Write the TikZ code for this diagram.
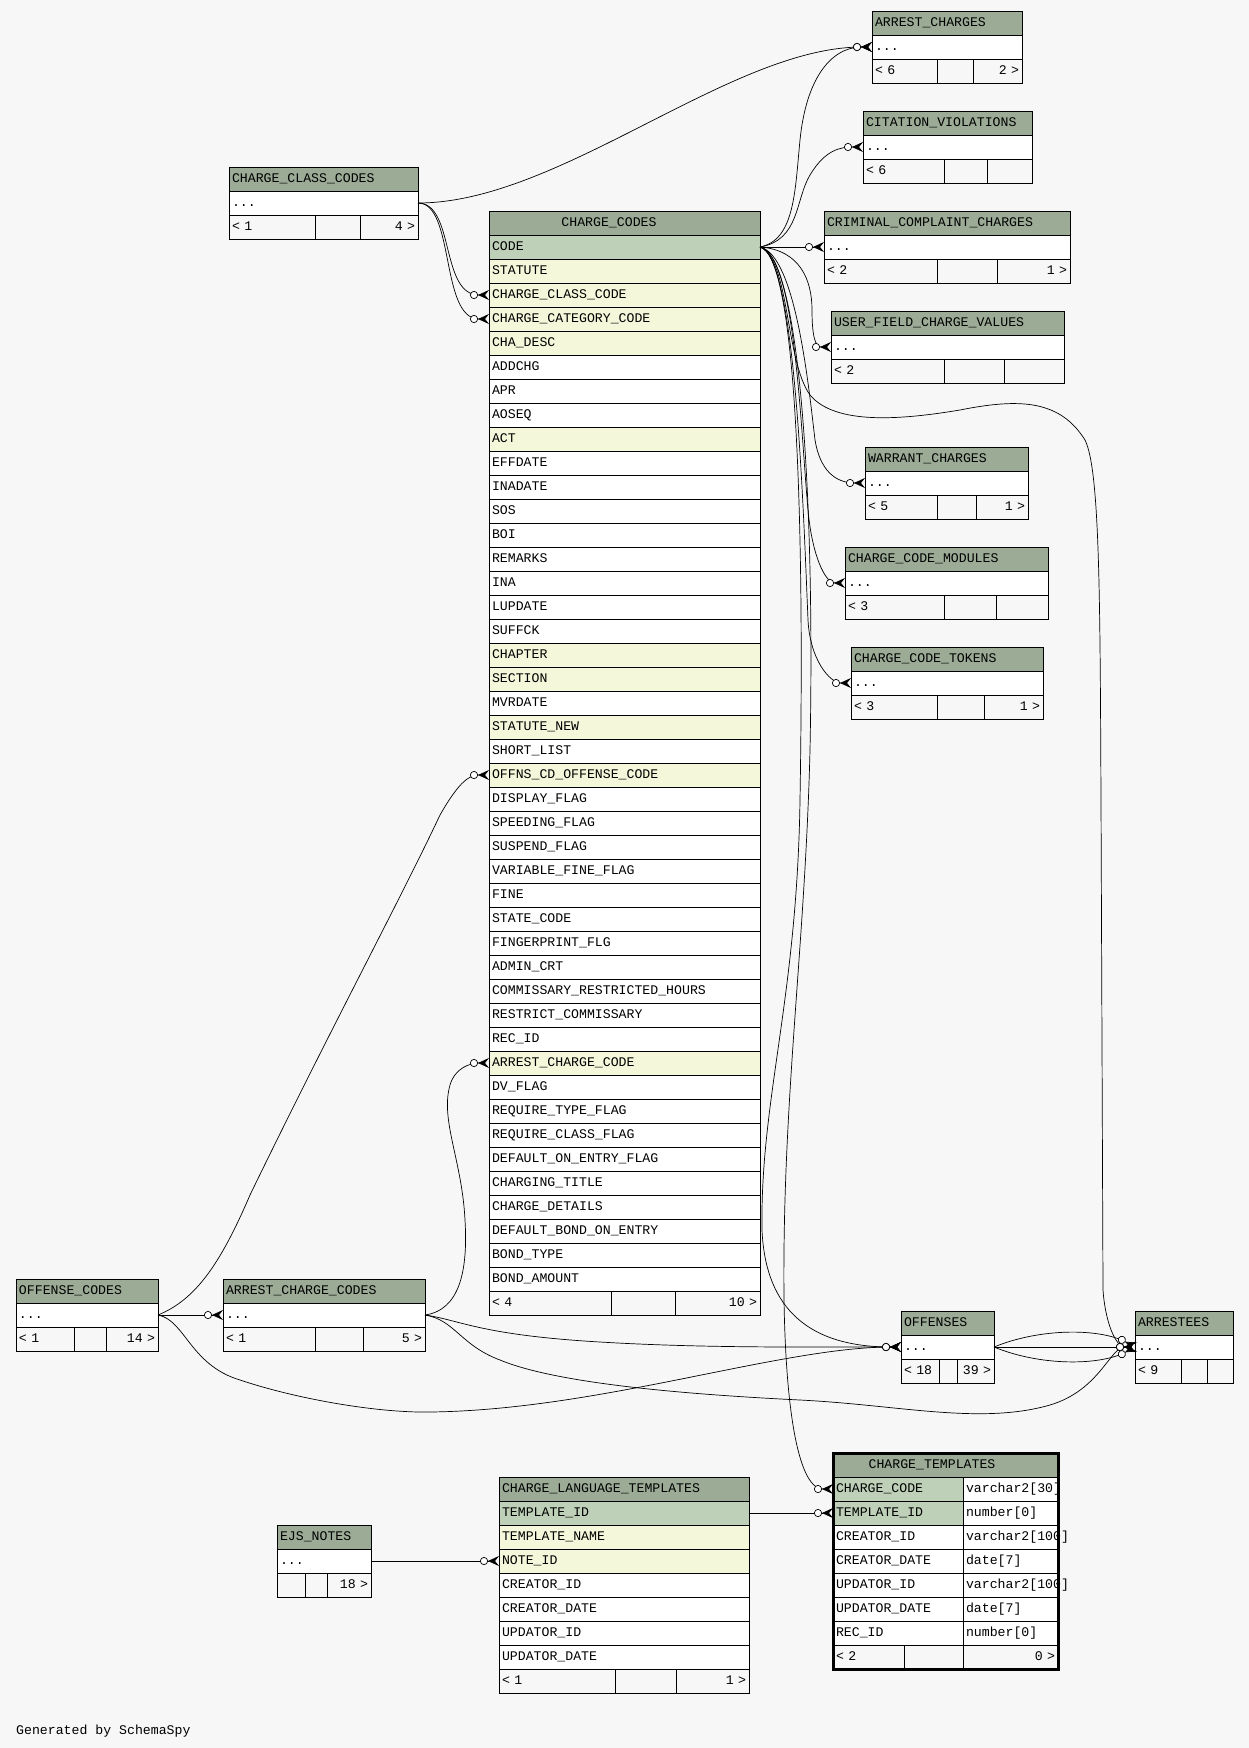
\documentclass[tikz,border=0pt]{standalone}
\usepackage{fontspec}
\usetikzlibrary{arrows.meta}
\newfontfamily\erdfont{Liberation Mono}
\definecolor{bgc}{HTML}{F7F7F7}
\definecolor{hdrc}{HTML}{9BAB96}
\definecolor{keyc}{HTML}{BED1B8}
\definecolor{idxc}{HTML}{F4F7DA}
\tikzset{
  every picture/.style={x=1pt, y=-1pt},
  erdcell/.style={
    draw, line width=1pt, anchor=north west,
    minimum height=24pt, inner xsep=3pt, inner ysep=0pt, outer sep=0pt,
    text height=10pt, text depth=3pt, align=left, text width=#1,
    font=\erdfont\fontsize{13.2pt}{15pt}\selectfont
  },
  hdr/.style={fill=hdrc},
  foot/.style={fill=bgc},
  tabtitle/.style={
    inner sep=0pt, text height=10pt, text depth=3pt,
    font=\erdfont\fontsize{13.2pt}{15pt}\selectfont
  },
  fk/.style={
    line width=0.7pt,
    -{Circle[open, length=8pt, width=8pt, fill=white] Stealth[reversed, length=11pt, width=10pt, inset=4pt]}
  }
}
% small table: name, x, y, three column widths, title, footer left, footer right
\newcommand{\erdbox}[9]{%
  \pgfmathsetmacro\erdw{#4+#5+#6-6}%
  \pgfmathsetmacro\erdwl{#4-6}%
  \pgfmathsetmacro\erdwm{#5-6}%
  \pgfmathsetmacro\erdwr{#6-6}%
  \node[erdcell=\erdw pt, hdr] (#1) at (#2,#3) {#7};
  \node[erdcell=\erdw pt, fill=white] (#1-dots) at (#1.south west) {...};
  \node[erdcell=\erdwl pt, foot] (#1-l) at (#1-dots.south west) {#8};
  \node[erdcell=\erdwm pt, foot] (#1-m) at (#1-l.north east) {};
  \node[erdcell=\erdwr pt, foot, align=right] (#1-r) at (#1-m.north east) {#9};
}

\begin{document}
\begin{tikzpicture}
  \useasboundingbox (0,0) rectangle (1249,1748);
  \fill[bgc] (0,0) rectangle (1249,1748);

  % small tables
  \erdbox{ac}{872}{11}{65}{36}{49}{ARREST\_CHARGES}{< 6}{2 >}
  \erdbox{cv}{863}{111}{81}{43}{45}{CITATION\_VIOLATIONS}{< 6}{}
  \erdbox{crc}{824}{211}{113}{60}{73}{CRIMINAL\_COMPLAINT\_CHARGES}{< 2}{1 >}
  \erdbox{uf}{831}{311}{113}{60}{60}{USER\_FIELD\_CHARGE\_VALUES}{< 2}{}
  \erdbox{wc}{865}{447}{72}{39}{52}{WARRANT\_CHARGES}{< 5}{1 >}
  \erdbox{cm}{845}{547}{99}{52}{52}{CHARGE\_CODE\_MODULES}{< 3}{}
  \erdbox{ctk}{851}{647}{86}{47}{59}{CHARGE\_CODE\_TOKENS}{< 3}{1 >}
  \erdbox{clc}{229}{167}{86}{45}{58}{CHARGE\_CLASS\_CODES}{< 1}{4 >}
  \erdbox{oc}{16}{1279}{58}{32}{52}{OFFENSE\_CODES}{< 1}{14 >}
  \erdbox{acc}{223}{1279}{92}{48}{62}{ARREST\_CHARGE\_CODES}{< 1}{5 >}
  \erdbox{off}{901}{1311}{38}{18}{37}{OFFENSES}{< 18}{39 >}
  \erdbox{arr}{1135}{1311}{46}{26}{26}{ARRESTEES}{< 9}{}
  \erdbox{ejs}{277}{1525}{28}{22}{44}{EJS\_NOTES}{}{18 >}

  % charge codes
  \node[erdcell=265pt, hdr] (cc-0) at (489,211) {};
  \node[tabtitle] (cc-title) at (609,223) {CHARGE\_CODES};
  \foreach \nm/\fc [count=\i] in {CODE/keyc, STATUTE/idxc, CHARGE\_CLASS\_CODE/idxc,
      CHARGE\_CATEGORY\_CODE/idxc, CHA\_DESC/idxc, ADDCHG/white, APR/white, AOSEQ/white,
      ACT/idxc, EFFDATE/white, INADATE/white, SOS/white, BOI/white, REMARKS/white,
      INA/white, LUPDATE/white, SUFFCK/white, CHAPTER/idxc, SECTION/idxc, MVRDATE/white,
      STATUTE\_NEW/idxc, SHORT\_LIST/white, OFFNS\_CD\_OFFENSE\_CODE/idxc,
      DISPLAY\_FLAG/white, SPEEDING\_FLAG/white, SUSPEND\_FLAG/white,
      VARIABLE\_FINE\_FLAG/white, FINE/white, STATE\_CODE/white, FINGERPRINT\_FLG/white,
      ADMIN\_CRT/white, COMMISSARY\_RESTRICTED\_HOURS/white, RESTRICT\_COMMISSARY/white,
      REC\_ID/white, ARREST\_CHARGE\_CODE/idxc, DV\_FLAG/white, REQUIRE\_TYPE\_FLAG/white,
      REQUIRE\_CLASS\_FLAG/white, DEFAULT\_ON\_ENTRY\_FLAG/white, CHARGING\_TITLE/white,
      CHARGE\_DETAILS/white, DEFAULT\_BOND\_ON\_ENTRY/white, BOND\_TYPE/white,
      BOND\_AMOUNT/white}
    \node[erdcell=265pt, fill=\fc] (cc-\i) at (489,211+24*\i) {\nm};
  \node[erdcell=116pt, foot] (cc-l) at (cc-44.south west) {< 4};
  \node[erdcell=58pt, foot] (cc-m) at (cc-l.north east) {};
  \node[erdcell=79pt, foot, align=right] (cc-r) at (cc-m.north east) {10 >};

  % charge language templates
  \node[erdcell=244pt, hdr] (clt-0) at (499,1477) {CHARGE\_LANGUAGE\_TEMPLATES};
  \foreach \nm/\fc [count=\i] in {TEMPLATE\_ID/keyc, TEMPLATE\_NAME/idxc, NOTE\_ID/idxc,
      CREATOR\_ID/white, CREATOR\_DATE/white, UPDATOR\_ID/white, UPDATOR\_DATE/white}
    \node[erdcell=244pt, fill=\fc] (clt-\i) at (499,1477+24*\i) {\nm};
  \node[erdcell=110pt, foot] (clt-l) at (clt-7.south west) {< 1};
  \node[erdcell=55pt, foot] (clt-m) at (clt-l.north east) {};
  \node[erdcell=67pt, foot, align=right] (clt-r) at (clt-m.north east) {1 >};

  % charge templates
  \node[erdcell=219pt, hdr] (ctp-0) at (833,1453) {};
  \node[tabtitle] (ctp-title) at (932,1465) {CHARGE\_TEMPLATES};
  \foreach \nm/\ty/\fc [count=\i] in {CHARGE\_CODE/varchar2[30]/keyc,
      TEMPLATE\_ID/number[0]/keyc, CREATOR\_ID/varchar2[100]/white,
      CREATOR\_DATE/date[7]/white, UPDATOR\_ID/varchar2[100]/white,
      UPDATOR\_DATE/date[7]/white, REC\_ID/number[0]/white} {
    \node[erdcell=124pt, fill=\fc] (ctp-\i) at (833,1453+24*\i) {\nm};
    \node[erdcell=89pt, fill=white] (ctp-\i t) at (ctp-\i.north east) {\mbox{\ty}};
  }
  \node[erdcell=65pt, foot] (ctp-l) at (ctp-7.south west) {< 2};
  \node[erdcell=53pt, foot] (ctp-m) at (ctp-l.north east) {};
  \node[erdcell=89pt, foot, align=right] (ctp-r) at (ctp-m.north east) {0 >};

  % relationships
  \draw[fk] (clc-dots.east) .. controls (560,203) and (730,47) .. (ac-dots.west);
  \draw[fk] (clc-dots.east) .. controls (455,203) and (440,295) .. (cc-3.west);
  \draw[fk] (clc-dots.east) .. controls (455,203) and (440,319) .. (cc-4.west);
  \draw[fk] (cc-1.east) .. controls (795,240) and (795,190) .. (800,140)
    .. controls (806,80) and (830,47) .. (ac-dots.west);
  \draw[fk] (cc-1.east) .. controls (800,240) and (795,200) .. (810,175)
    .. controls (825,150) and (840,147) .. (cv-dots.west);
  \draw[fk] (cc-1.east) -- (crc-dots.west);
  \draw[fk] (cc-1.east) .. controls (800,250) and (812,280) .. (812,310)
    .. controls (812,335) and (815,347) .. (uf-dots.west);
  \draw[fk] (cc-1.east) .. controls (795,255) and (808,380) .. (815,440)
    .. controls (820,470) and (835,483) .. (wc-dots.west);
  \draw[fk] (cc-1.east) .. controls (795,255) and (800,420) .. (808,510)
    .. controls (812,555) and (825,583) .. (cm-dots.west);
  \draw[fk] (cc-1.east) .. controls (795,255) and (803,500) .. (808,620)
    .. controls (810,660) and (830,683) .. (ctk-dots.west);
  \draw[fk] (cc-1.east) .. controls (790,260) and (785,360) .. (810,395)
    .. controls (835,425) and (900,420) .. (960,410)
    .. controls (1020,398) and (1060,400) .. (1085,440)
    .. controls (1100,470) and (1100,600) .. (1101,800) -- (1103,1290)
    .. controls (1105,1320) and (1115,1347) .. (arr-dots.west);
  \draw[fk] (cc-1.east) .. controls (795,255) and (805,500) .. (800,800)
    .. controls (797,1000) and (760,1100) .. (762,1230)
    .. controls (765,1300) and (800,1347) .. (off-dots.west);
  \draw[fk] (cc-1.east) .. controls (800,255) and (815,500) .. (810,750)
    .. controls (805,950) and (782,1100) .. (784,1300)
    .. controls (786,1420) and (800,1489) .. (ctp-1.west);
  \draw[fk] (oc-dots.east) .. controls (195,1300) and (220,1265) .. (250,1195)
    .. controls (330,1030) and (400,900) .. (440,815)
    .. controls (460,780) and (470,775) .. (cc-23.west);
  \draw[fk] (oc-dots.east) -- (acc-dots.west);
  \draw[fk] (oc-dots.east) .. controls (185,1320) and (190,1365) .. (240,1380)
    .. controls (300,1400) and (380,1413) .. (430,1412)
    .. controls (600,1410) and (780,1347) .. (off-dots.west);
  \draw[fk] (acc-dots.east) .. controls (460,1310) and (468,1270) .. (465,1220)
    .. controls (462,1160) and (440,1120) .. (450,1085)
    .. controls (455,1068) and (470,1063) .. (cc-35.west);
  \draw[fk] (acc-dots.east) .. controls (460,1320) and (480,1335) .. (600,1342)
    .. controls (700,1348) and (800,1347) .. (off-dots.west);
  \draw[fk] (acc-dots.east) .. controls (455,1320) and (460,1345) .. (500,1360)
    .. controls (560,1385) and (700,1395) .. (800,1400)
    .. controls (900,1405) and (980,1425) .. (1050,1405)
    .. controls (1100,1390) and (1110,1347) .. (arr-dots.west);
  \draw[fk] (off-dots.east) .. controls (1040,1328) and (1100,1328) .. (arr-dots.west);
  \draw[fk] (off-dots.east) -- (arr-dots.west);
  \draw[fk] (off-dots.east) .. controls (1040,1366) and (1100,1366) .. (arr-dots.west);
  \draw[fk] (clt-1.east) -- (ctp-2.west);
  \draw[fk] (ejs-dots.east) -- (clt-3.west);

  \draw[line width=3pt] (ctp-0.north west) rectangle (ctp-r.south east);
  \node[tabtitle, anchor=base west] (credit) at (16,1734) {Generated by SchemaSpy};
\end{tikzpicture}
\end{document}
